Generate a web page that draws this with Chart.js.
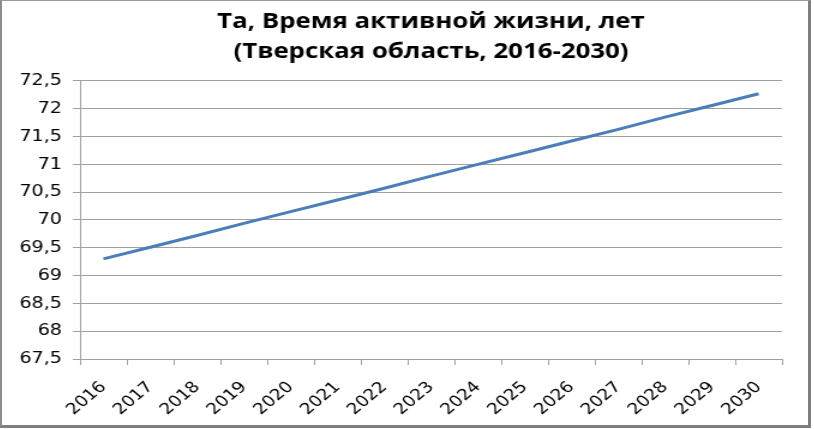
<!DOCTYPE html>
<html>
<head>
<meta charset="utf-8">
<script src="https://cdn.jsdelivr.net/npm/chart.js@4"></script>
<style>
  html, body { margin: 0; padding: 0; background: #fff; overflow: hidden; }
  #moldura {
    width: 806px; height: 424px;
    border-top: 1px solid #9a9a9a;
    border-left: 2px solid #8c8c8c;
    border-right: 3px solid #7f7f7f;
    border-bottom: 3px solid #7f7f7f;
    overflow: hidden;
  }
  /* the picture is stretched sideways, so draw narrow and widen */
  #wrap {
    position: relative;
    width: 672px; height: 424px;
    transform: scaleX(1.2);
    transform-origin: 0 0;
  }
</style>
</head>
<body>
<div id="moldura"><div id="wrap"><canvas id="grafico"></canvas></div></div>
<script>
  // years and values
  const anos = ['2016', '2017', '2018', '2019', '2020', '2021', '2022', '2023',
    '2024', '2025', '2026', '2027', '2028', '2029', '2030'];
  const vremya = [69.30, 69.51, 69.72, 69.94, 70.15, 70.36, 70.57, 70.79,
    71.00, 71.21, 71.42, 71.63, 71.85, 72.06, 72.27];
  const titulo = ['Та, Время активной жизни, лет', '(Тверская область, 2016-2030)'];

  const ctx = document.getElementById('grafico').getContext('2d');

  new Chart(ctx, {
    type: 'line',
    data: {
      labels: anos,
      datasets: [{
        label: 'Та',
        data: vremya,
        borderColor: '#4a7ebb',
        borderWidth: 3,
        pointRadius: 0,
        tension: 0,
        fill: false
      }]
    },
    options: {
      responsive: true,
      maintainAspectRatio: false,
      animation: false,
      layout: {
        padding: { left: 0, right: 22, top: 0, bottom: 0 }
      },
      plugins: {
        legend: { display: false },
        tooltip: { enabled: false },
        title: {
          display: true,
          fullSize: false, // centre over the plot, sits a bit right like the original
          text: titulo,
          color: '#000',
          font: { family: 'Open Sans', size: 21.5, weight: 'bold', lineHeight: 1.395 },
          padding: { top: 5.5, bottom: 14.5 }
        }
      },
      scales: {
        x: {
          offset: true,
          afterFit: function (scale) { scale.height = 66; },
          grid: {
            offset: true,
            drawOnChartArea: false,
            drawTicks: true,
            tickLength: 6,
            color: '#a0a0a0'
          },
          border: { color: '#a0a0a0', width: 1 },
          ticks: {
            color: '#000',
            font: { family: 'DejaVu Sans', size: 15.5 },
            maxRotation: 45,
            minRotation: 45,
            padding: 13,
            autoSkip: false
          }
        },
        y: {
          min: 67.5,
          max: 72.5,
          afterFit: function (scale) { scale.width = 65; },
          grid: {
            color: '#a0a0a0',
            tickLength: 6,
            drawTicks: true
          },
          border: { color: '#a0a0a0', width: 1 },
          ticks: {
            stepSize: 0.5,
            color: '#000',
            font: { family: 'DejaVu Sans', size: 16 },
            padding: 9,
            callback: function (v) {
              return String(v).replace('.', ',');
            }
          }
        }
      }
    }
  });
</script>
</body>
</html>
